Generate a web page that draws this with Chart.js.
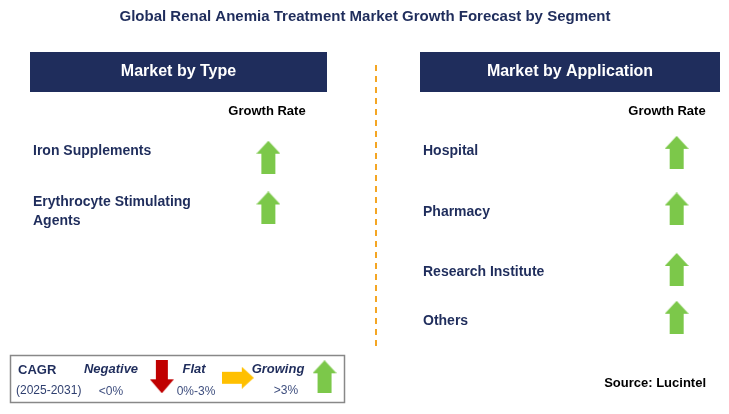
<!DOCTYPE html><html><head><meta charset="utf-8">
<script src="https://cdn.jsdelivr.net/npm/chart.js@4"></script>
<style>html,body{margin:0;background:#fff}#w{width:729px;height:414px}</style></head><body>
<div id="w"><canvas id="c"></canvas></div>
<script>
const title = "Global Renal Anemia Treatment Market Growth Forecast by Segment";
const typeSegments = [["Iron Supplements"], ["Erythrocyte Stimulating", "Agents"]];
const typeGrowth = ["growing", "growing"];
const appSegments = [["Hospital"], ["Pharmacy"], ["Research Institute"], ["Others"]];
const appGrowth = ["growing", "growing", "growing", "growing"];
const typeRowY = [156, 208];
const appRowY = [151, 209, 271, 320];
const appLabelY = [151, 212, 272, 321];

const NAVY = "#1f2d5c", GREEN = "#7cc84a", RED = "#c00000", YEL = "#ffc000";
function arrowImg(dir, color) {
  const c = document.createElement("canvas");
  const w = dir === "right" ? 32 : 24, h = dir === "right" ? 22 : 33;
  c.width = w; c.height = h;
  const g = c.getContext("2d"); g.fillStyle = color; g.beginPath();
  if (dir === "up") { g.moveTo(12,0); g.lineTo(24,13); g.lineTo(19,13); g.lineTo(19,33); g.lineTo(5,33); g.lineTo(5,13); g.lineTo(0,13); }
  else if (dir === "down") { g.moveTo(12,33); g.lineTo(24,19); g.lineTo(18,19); g.lineTo(18,0); g.lineTo(6,0); g.lineTo(6,19); g.lineTo(0,19); }
  else { g.moveTo(32,11); g.lineTo(20,0); g.lineTo(20,5); g.lineTo(0,5); g.lineTo(0,17); g.lineTo(20,17); g.lineTo(20,22); }
  g.closePath(); g.fill(); return c;
}
const styleFor = { growing: arrowImg("up", GREEN), flat: arrowImg("right", YEL), negative: arrowImg("down", RED) };

const overlay = {
  id: "overlay",
  beforeDatasetsDraw(chart) {
    const g = chart.ctx; g.save();
    g.textBaseline = "middle";
    g.fillStyle = NAVY; g.font = "bold 15px Arial, 'Liberation Sans'"; g.textAlign = "center";
    g.fillText(title, 365, 17);
    [[30, 327, "Market by Type"], [420, 720, "Market by Application"]].forEach(([a, b, t]) => {
      g.fillStyle = NAVY; g.fillRect(a, 52, b - a, 40);
      g.fillStyle = "#fff"; g.font = "bold 16px Arial, 'Liberation Sans'"; g.fillText(t, (a + b) / 2, 72);
    });
    g.fillStyle = "#000"; g.font = "bold 13px Arial, 'Liberation Sans'";
    g.fillText("Growth Rate", 267, 111); g.fillText("Growth Rate", 667, 111);
    g.textAlign = "left"; g.fillStyle = NAVY; g.font = "bold 14px Arial, 'Liberation Sans'";
    typeSegments.forEach((s, i) => s.forEach((l, j) => g.fillText(l, 33, typeRowY[i] - 5 - (s.length - 1) * 1 + j * 19)));
    appSegments.forEach((s, i) => s.forEach((l, j) => g.fillText(l, 423, appLabelY[i] + j * 19)));
    g.strokeStyle = "#f4a623"; g.lineWidth = 2; g.setLineDash([6, 5]);
    g.beginPath(); g.moveTo(376, 65); g.lineTo(376, 350); g.stroke(); g.setLineDash([]);
    g.strokeStyle = "#888"; g.lineWidth = 1.5; g.strokeRect(10.5, 355.5, 334, 47);
    g.fillStyle = NAVY; g.font = "bold 13px Arial, 'Liberation Sans'"; g.fillText("CAGR", 18, 370);
    g.fillStyle = "#2f3f6f"; g.font = "12px Arial, 'Liberation Sans'"; g.fillText("(2025-2031)", 16, 391);
    g.fillStyle = NAVY; g.font = "bold italic 13px Arial, 'Liberation Sans'"; g.textAlign = "center";
    g.fillText("Negative", 111, 369); g.fillText("Flat", 194, 369); g.fillText("Growing", 278, 369);
    g.fillStyle = "#3f4f7f"; g.font = "12px Arial, 'Liberation Sans'";
    g.fillText("<0%", 111, 392); g.fillText("0%-3%", 196, 392); g.fillText(">3%", 286, 391);
    g.fillStyle = "#000"; g.font = "bold 13px Arial, 'Liberation Sans'"; g.textAlign = "right";
    g.fillText("Source: Lucintel", 706, 383);
    g.restore();
  }
};

const data = [
  ...typeGrowth.map((k, i) => ({ x: 267, y: typeRowY[i], s: k })),
  ...appGrowth.map((k, i) => ({ x: 681, y: appRowY[i], s: k })),
];
const legend = [{ x: 159, y: 381, s: "negative" }, { x: 236, y: 382, s: "flat" }, { x: 324, y: 381, s: "growing" }];

new Chart(document.getElementById("c"), {
  type: "scatter",
  data: { datasets: [
    { data, pointStyle: data.map(d => styleFor[d.s]) },
    { data: legend, pointStyle: legend.map(d => styleFor[d.s]) }
  ] },
  options: {
    responsive: true, maintainAspectRatio: false, animation: false,
    layout: { padding: 0 },
    plugins: { legend: { display: false }, tooltip: { enabled: false } },
    scales: {
      x: { type: "linear", min: 0, max: 729, display: false },
      y: { type: "linear", min: 0, max: 414, reverse: true, display: false }
    }
  },
  plugins: [overlay]
});
</script></body></html>
